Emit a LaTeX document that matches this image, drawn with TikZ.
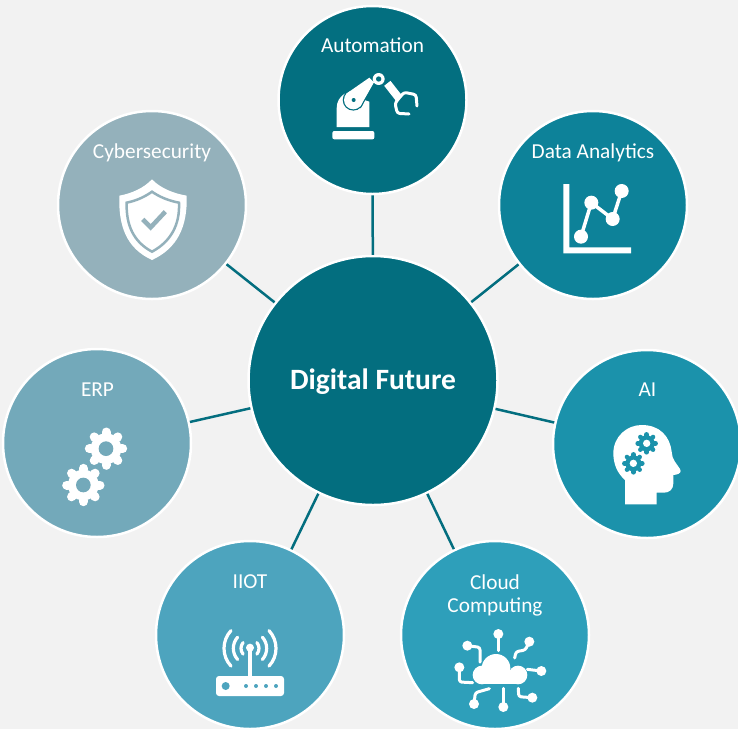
\documentclass[tikz,border=0pt]{standalone}
\usepackage{fontspec}
\setmainfont{Carlito}
\usetikzlibrary{calc}
\definecolor{bgc}{HTML}{F2F2F2}
\definecolor{cHub}{HTML}{036E7F}
\definecolor{cAuto}{HTML}{036F80}
\definecolor{cData}{HTML}{0D8299}
\definecolor{cAI}{HTML}{1B92AB}
\definecolor{cCloud}{HTML}{2E9FBA}
\definecolor{cIIOT}{HTML}{4DA4BE}
\definecolor{cERP}{HTML}{73A9BA}
\definecolor{cCyber}{HTML}{94B1BB}
\tikzset{
  hubnode/.style={circle,draw=white,line width=2.5pt,fill=cHub,minimum size=249pt,inner sep=0pt,text=white,font=\fontsize{29.5}{34}\selectfont\bfseries},
  sat/.style={circle,draw=white,line width=2.5pt,minimum size=188pt,inner sep=0pt},
  lab/.style={text=white,inner sep=0pt,font=\fontsize{21.3}{23}\selectfont,align=center},
  spoke/.style={draw=cHub,line width=2.5pt},
  zoomed/.style={x=0.33333pt,y=-0.33333pt},
  wl/.style={draw=white,line width=3pt,line cap=round,line join=round,rounded corners=2.5pt},
}
% #1 centre x, #2 centre y, #3 body radius, #4 tooth end, #5 hole radius, #6 hole colour, #7 tooth width, #8 gear colour
\newcommand{\gearicon}[8]{%
  \fill[#8] (#1,#2) circle[radius=#3];
  \foreach \gang in {0,45,...,315}
    \draw[#8,line width=#7,line cap=round] ($(#1,#2)+(\gang:#3)$) -- ($(#1,#2)+(\gang:#4)$);
  \fill[#6] (#1,#2) circle[radius=#5];
}
\begin{document}
\begin{tikzpicture}[x=1pt,y=-1pt]
\useasboundingbox (0,0) rectangle (738,729);
\clip (0,0) rectangle (738,729);
\fill[bgc] (0,0) rectangle (738,729);

\node[hubnode] (hub) at (373,380.5) {\raisebox{-9pt}[0pt][0pt]{Digital Future}};
\node[sat,fill=cAuto] (auto) at (372.5,100) {};
\node[sat,fill=cData] (data) at (593,205) {};
\node[sat,fill=cAI] (ai) at (647,444) {};
\node[sat,fill=cCloud] (cloud) at (495,635) {};
\node[sat,fill=cIIOT] (iiot) at (250,635) {};
\node[sat,fill=cERP] (erp) at (97,443) {};
\node[sat,fill=cCyber] (cyber) at (152,205) {};

\foreach \s in {auto,data,ai,cloud,iiot,erp,cyber}
  \draw[spoke] (hub) -- (\s);

\node[lab] (lAuto) at (372.5,45) {Automation};
\node[lab] (lData) at (593,153) {Data Analytics};
\node[lab] (lAI) at (647.5,390) {AI};
\node[lab] (lCloud) at (495,595.5) {Cloud\\Computing};
\node[lab] (lIIOT) at (250,582) {IIOT};
\node[lab] (lERP) at (97.5,390) {ERP};
\node[lab] (lCyber) at (152,153) {Cybersecurity};

% robot
\begin{scope}[shift={(270,0)},zoomed]
  \fill[white,rounded corners=2pt] (187,418) -- (187,393) -- (313,393) -- (313,418) -- cycle;
  \fill[white] (200,381) -- (200,325) .. controls (200,305) and (208,292) .. (225,280) -- (298,305) -- (298,381) -- cycle;
  \draw[cAuto,line width=2.5pt,fill=cAuto] (250,300) circle[radius=28];
  \draw[cAuto,line width=2.5pt,fill=cAuto] (229,281) -- (298,233) -- (312,247) -- (271,319) -- cycle;
  \fill[white] (250,300) circle[radius=28];
  \fill[white] (229,281) -- (298,233) -- (312,247) -- (271,319) -- cycle;
  \fill[cAuto] (251,300) circle[radius=6];
  \fill[white] (326,237) circle[radius=18];
  \fill[cAuto] (326,237) circle[radius=8];
  \draw[white,line width=8pt] (352,250) -- (388,296);
  \draw[wl] (385,297) -- (402,277) -- (438,284) -- (441,318);
  \draw[wl] (385,297) -- (375,310) -- (382,340) -- (417,342);
\end{scope}

% chart
\begin{scope}[shift={(520,130)},zoomed]
  \fill[white] (130,162) -- (148,162) -- (148,352) -- (333,352) -- (333,370) -- (130,370) -- cycle;
  \draw[white,line width=3.5pt] (183,320) -- (214,218) -- (278,267) -- (305,183);
  \foreach \px/\py in {183/320,214/218,278/267,305/183}
    \fill[white] (\px,\py) circle[radius=21];
\end{scope}

% AI head
\begin{scope}[shift={(590,370)},zoomed]
  \fill[white] (105,403) -- (105,330) .. controls (82,310) and (70,282) .. (70,250)
    .. controls (70,200) and (110,165) .. (155,165)
    .. controls (210,165) and (240,200) .. (245,245)
    -- (248,262) .. controls (255,280) and (272,295) .. (272,303)
    .. controls (272,310) and (262,314) .. (250,315)
    -- (250,340) .. controls (250,358) and (238,368) .. (222,368)
    -- (200,368) -- (200,403) -- cycle;
  \gearicon{170}{220}{24}{27}{11}{white}{4.5pt}{cAI}
  \gearicon{130}{280}{24}{27}{11}{white}{4.5pt}{cAI}
\end{scope}

% cloud
\begin{scope}[shift={(430,560)},zoomed]
  \fill[white] (156,345) circle[radius=28];
  \fill[white] (198,325) circle[radius=43];
  \fill[white] (264,345) circle[radius=28];
  \fill[white] (156,345) rectangle (264,373);
  \draw[wl] (205,222) -- (205,272);
  \fill[white] (205,222) circle[radius=15];
  \draw[wl] (298,245) -- (286,270) -- (258,275) -- (254,294);
  \fill[white] (298,245) circle[radius=15];
  \draw[wl] (334,333) -- (292,328);
  \fill[white] (334,333) circle[radius=15];
  \draw[wl] (112,257) -- (150,262) -- (150,306);
  \fill[white] (112,257) circle[radius=15];
  \draw[wl] (88,322) -- (88,366) -- (128,368);
  \fill[white] (88,322) circle[radius=15];
  \draw[wl] (132,432) -- (136,398) -- (178,386);
  \fill[white] (132,432) circle[radius=15];
  \draw[wl] (220,441) -- (220,385);
  \fill[white] (220,441) circle[radius=15];
  \draw[wl] (307,413) -- (266,410) -- (265,385);
  \fill[white] (307,413) circle[radius=15];
\end{scope}

% router
\begin{scope}[shift={(190,560)},zoomed]
  \fill[white,rounded corners=3pt] (78,348) rectangle (282,408);
  \fill[cIIOT] (107,378) circle[radius=12];
  \foreach \dx in {168,198,228,258}
    \fill[cIIOT] (\dx,378) circle[radius=6];
  \draw[white,line width=4pt] (180,263) -- (180,350);
  \fill[white] (180,263) circle[radius=12];
  \foreach \rr/\aa in {27/40,50/42,78/43} {
    \draw[white,line width=3.2pt,line cap=round] ($(180,265)+(-\aa:\rr)$) arc[start angle=-\aa,end angle=\aa,radius=\rr];
    \draw[white,line width=3.2pt,line cap=round] ($(180,265)+(180-\aa:\rr)$) arc[start angle=180-\aa,end angle=180+\aa,radius=\rr];
  }
\end{scope}

% ERP gears
\begin{scope}[shift={(40,370)},zoomed]
  \gearicon{198}{236}{46}{50}{22}{cERP}{9pt}{white}
  \gearicon{130}{345}{46}{50}{22}{cERP}{9pt}{white}
\end{scope}

% shield
\begin{scope}[shift={(90,130)},zoomed]
  \fill[white] (186,148) .. controls (160,175) and (125,190) .. (88,197)
    .. controls (85,290) and (110,355) .. (186,390)
    .. controls (262,355) and (293,290) .. (290,197)
    .. controls (250,190) and (212,175) .. (186,148) -- cycle;
  \draw[cCyber,line width=2.5pt] (186,185) .. controls (165,200) and (140,212) .. (110,218)
    .. controls (108,285) and (130,335) .. (186,365)
    .. controls (242,335) and (270,285) .. (267,218)
    .. controls (235,212) and (207,200) .. (186,185) -- cycle;
  \draw[cCyber,line width=4.5pt] (158,268) -- (182,292) -- (226,245);
\end{scope}
\end{tikzpicture}
\end{document}
